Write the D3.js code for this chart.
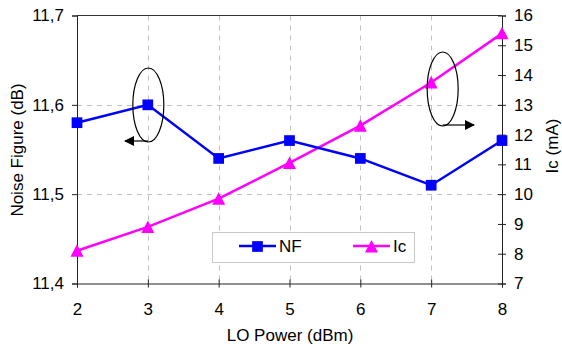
<!DOCTYPE html>
<html>
<head>
<meta charset="utf-8">
<script src="https://cdn.jsdelivr.net/npm/d3@7"></script>
<style>
  body { margin: 0; background: #fff; }
  svg { display: block; font-family: "Liberation Sans", Arial, sans-serif; }
</style>
</head>
<body>
<svg id="chart" width="562" height="349"></svg>
<script>
// LO power sweep: noise figure (left axis) and collector current (right axis)
const loPower = [2, 3, 4, 5, 6, 7, 8];
const nfValues = [11.58, 11.60, 11.54, 11.56, 11.54, 11.51, 11.56];
const icValues = [8.1, 8.9, 9.85, 11.05, 12.3, 13.75, 15.4];
const nfTicks = [11.4, 11.5, 11.6, 11.7];
const icTicks = [7, 8, 9, 10, 11, 12, 13, 14, 15, 16];
const seriesNames = ["NF", "Ic"];

const FONT = "17px";
const svg = d3.select("#chart");
const m = { left: 77, right: 502, top: 15.5, bottom: 283.5 };

const x = d3.scaleLinear().domain([2, 8]).range([m.left, m.right]);
const yL = d3.scaleLinear().domain([11.4, 11.7]).range([m.bottom, m.top]);
const yR = d3.scaleLinear().domain([7, 16]).range([m.bottom, m.top]);

const fmtComma = d => d3.format(".1f")(d).replace(".", ",");

// dashed grid
const grid = svg.append("g").attr("stroke", "#c0c0c0").attr("stroke-dasharray", "5,5").attr("stroke-width", 1);
grid.selectAll("line.h").data([11.5, 11.6]).join("line")
  .attr("x1", m.left).attr("x2", m.right)
  .attr("y1", d => Math.round(yL(d)) + 0.5).attr("y2", d => Math.round(yL(d)) + 0.5);
grid.selectAll("line.v").data(loPower.slice(1, -1)).join("line")
  .attr("x1", d => Math.round(x(d)) + 0.5).attr("x2", d => Math.round(x(d)) + 0.5)
  .attr("y1", m.top).attr("y2", m.bottom);

// top frame line
svg.append("line").attr("x1", m.left).attr("x2", m.right)
  .attr("y1", m.top).attr("y2", m.top).attr("stroke", "#333").attr("stroke-width", 1);

// axes
const axisStyle = g => {
  g.select(".domain").attr("stroke", "#222");
  g.selectAll(".tick line").attr("stroke", "#222");
  g.selectAll(".tick text").attr("fill", "#000").style("font-size", FONT)
    .style("font-family", "'Liberation Sans', Arial, sans-serif");
};

svg.append("g").attr("transform", `translate(${m.left},0)`)
  .call(d3.axisLeft(yL).tickValues(nfTicks).tickFormat(fmtComma).tickSizeOuter(0).tickSize(5).tickPadding(8))
  .call(axisStyle);

const rightAxis = svg.append("g").attr("transform", `translate(${m.right},0)`)
  .call(d3.axisRight(yR).tickValues(icTicks).tickFormat(d3.format("d")).tickSizeOuter(0).tickSize(4).tickPadding(8))
  .call(axisStyle);
rightAxis.selectAll(".tick line").attr("x1", -4);

const bottomAxis = svg.append("g").attr("transform", `translate(0,${m.bottom})`)
  .call(d3.axisBottom(x).tickValues(loPower).tickFormat(d3.format("d")).tickSizeOuter(0).tickSize(4).tickPadding(15))
  .call(axisStyle);
bottomAxis.selectAll(".tick line").attr("y1", -4);

// axis titles
svg.append("text").attr("x", 290).attr("y", 341).attr("text-anchor", "middle")
  .style("font-size", FONT).text("LO Power (dBm)");
svg.append("text").attr("transform", "translate(23,150) rotate(-90)").attr("text-anchor", "middle")
  .style("font-size", FONT).text("Noise Figure (dB)");
svg.append("text").attr("transform", "translate(558,146) rotate(-90)").attr("text-anchor", "middle")
  .style("font-size", FONT).text("Ic (mA)");

// series lines
const nfLine = d3.line().x((d, i) => x(loPower[i])).y(d => yL(d));
const icLine = d3.line().x((d, i) => x(loPower[i])).y(d => yR(d));

svg.append("path").datum(icValues).attr("d", icLine)
  .attr("fill", "none").attr("stroke", "#ff00ff").attr("stroke-width", 2.5);
svg.append("path").datum(nfValues).attr("d", nfLine)
  .attr("fill", "none").attr("stroke", "#0000ff").attr("stroke-width", 2.5);

// markers: square, and a triangle whose bounding box is centred on the point
const square = d3.symbol().type(d3.symbolSquare).size(115)();
const triangle = "M0,-6.5L6.5,6L-6.5,6Z";

svg.append("g").selectAll("path").data(icValues).join("path")
  .attr("d", triangle)
  .attr("transform", (d, i) => `translate(${x(loPower[i])},${yR(d)})`)
  .attr("fill", "#ff00ff");
svg.append("g").selectAll("path").data(nfValues).join("path")
  .attr("d", square)
  .attr("transform", (d, i) => `translate(${x(loPower[i])},${yL(d)})`)
  .attr("fill", "#0000ff");

// ellipses with arrows pointing to each series' axis
const defs = svg.append("defs");
defs.append("marker").attr("id", "arrowhead")
  .attr("viewBox", "0 0 10 10").attr("refX", 9).attr("refY", 5)
  .attr("markerWidth", 14).attr("markerHeight", 10).attr("markerUnits", "userSpaceOnUse")
  .attr("orient", "auto")
  .append("path").attr("d", "M0,0 L10,5 L0,10 Z").attr("fill", "#000");

const callouts = [
  { cx: x(3) + 0.5, cy: 105, x2: 125 },
  { cx: x(7) + 11.5, cy: 89, x2: 474 }
];
callouts.forEach(c => {
  svg.append("ellipse").attr("cx", c.cx).attr("cy", c.cy).attr("rx", 15.5).attr("ry", 37)
    .attr("fill", "none").attr("stroke", "#000").attr("stroke-width", 1.2);
  svg.append("line").attr("x1", c.cx).attr("x2", c.x2)
    .attr("y1", c.cy + 36).attr("y2", c.cy + 36)
    .attr("stroke", "#000").attr("stroke-width", 1.2).attr("marker-end", "url(#arrowhead)");
});

// legend
const lg = svg.append("g");
lg.append("rect").attr("x", 212.5).attr("y", 232.5).attr("width", 202).attr("height", 30)
  .attr("fill", "#fff").attr("stroke", "#c8c8c8");
const legendItems = [
  { name: seriesNames[0], color: "#0000ff", sym: square, x0: 239 },
  { name: seriesNames[1], color: "#ff00ff", sym: triangle, x0: 353 }
];
legendItems.forEach(it => {
  lg.append("line").attr("x1", it.x0).attr("x2", it.x0 + 37).attr("y1", 246).attr("y2", 246)
    .attr("stroke", it.color).attr("stroke-width", 2.5);
  lg.append("path").attr("d", it.sym).attr("transform", `translate(${it.x0 + 18.5},246.5)`).attr("fill", it.color);
  lg.append("text").attr("x", it.x0 + 40).attr("y", 252).style("font-size", FONT).text(it.name);
});
</script>
</body>
</html>
